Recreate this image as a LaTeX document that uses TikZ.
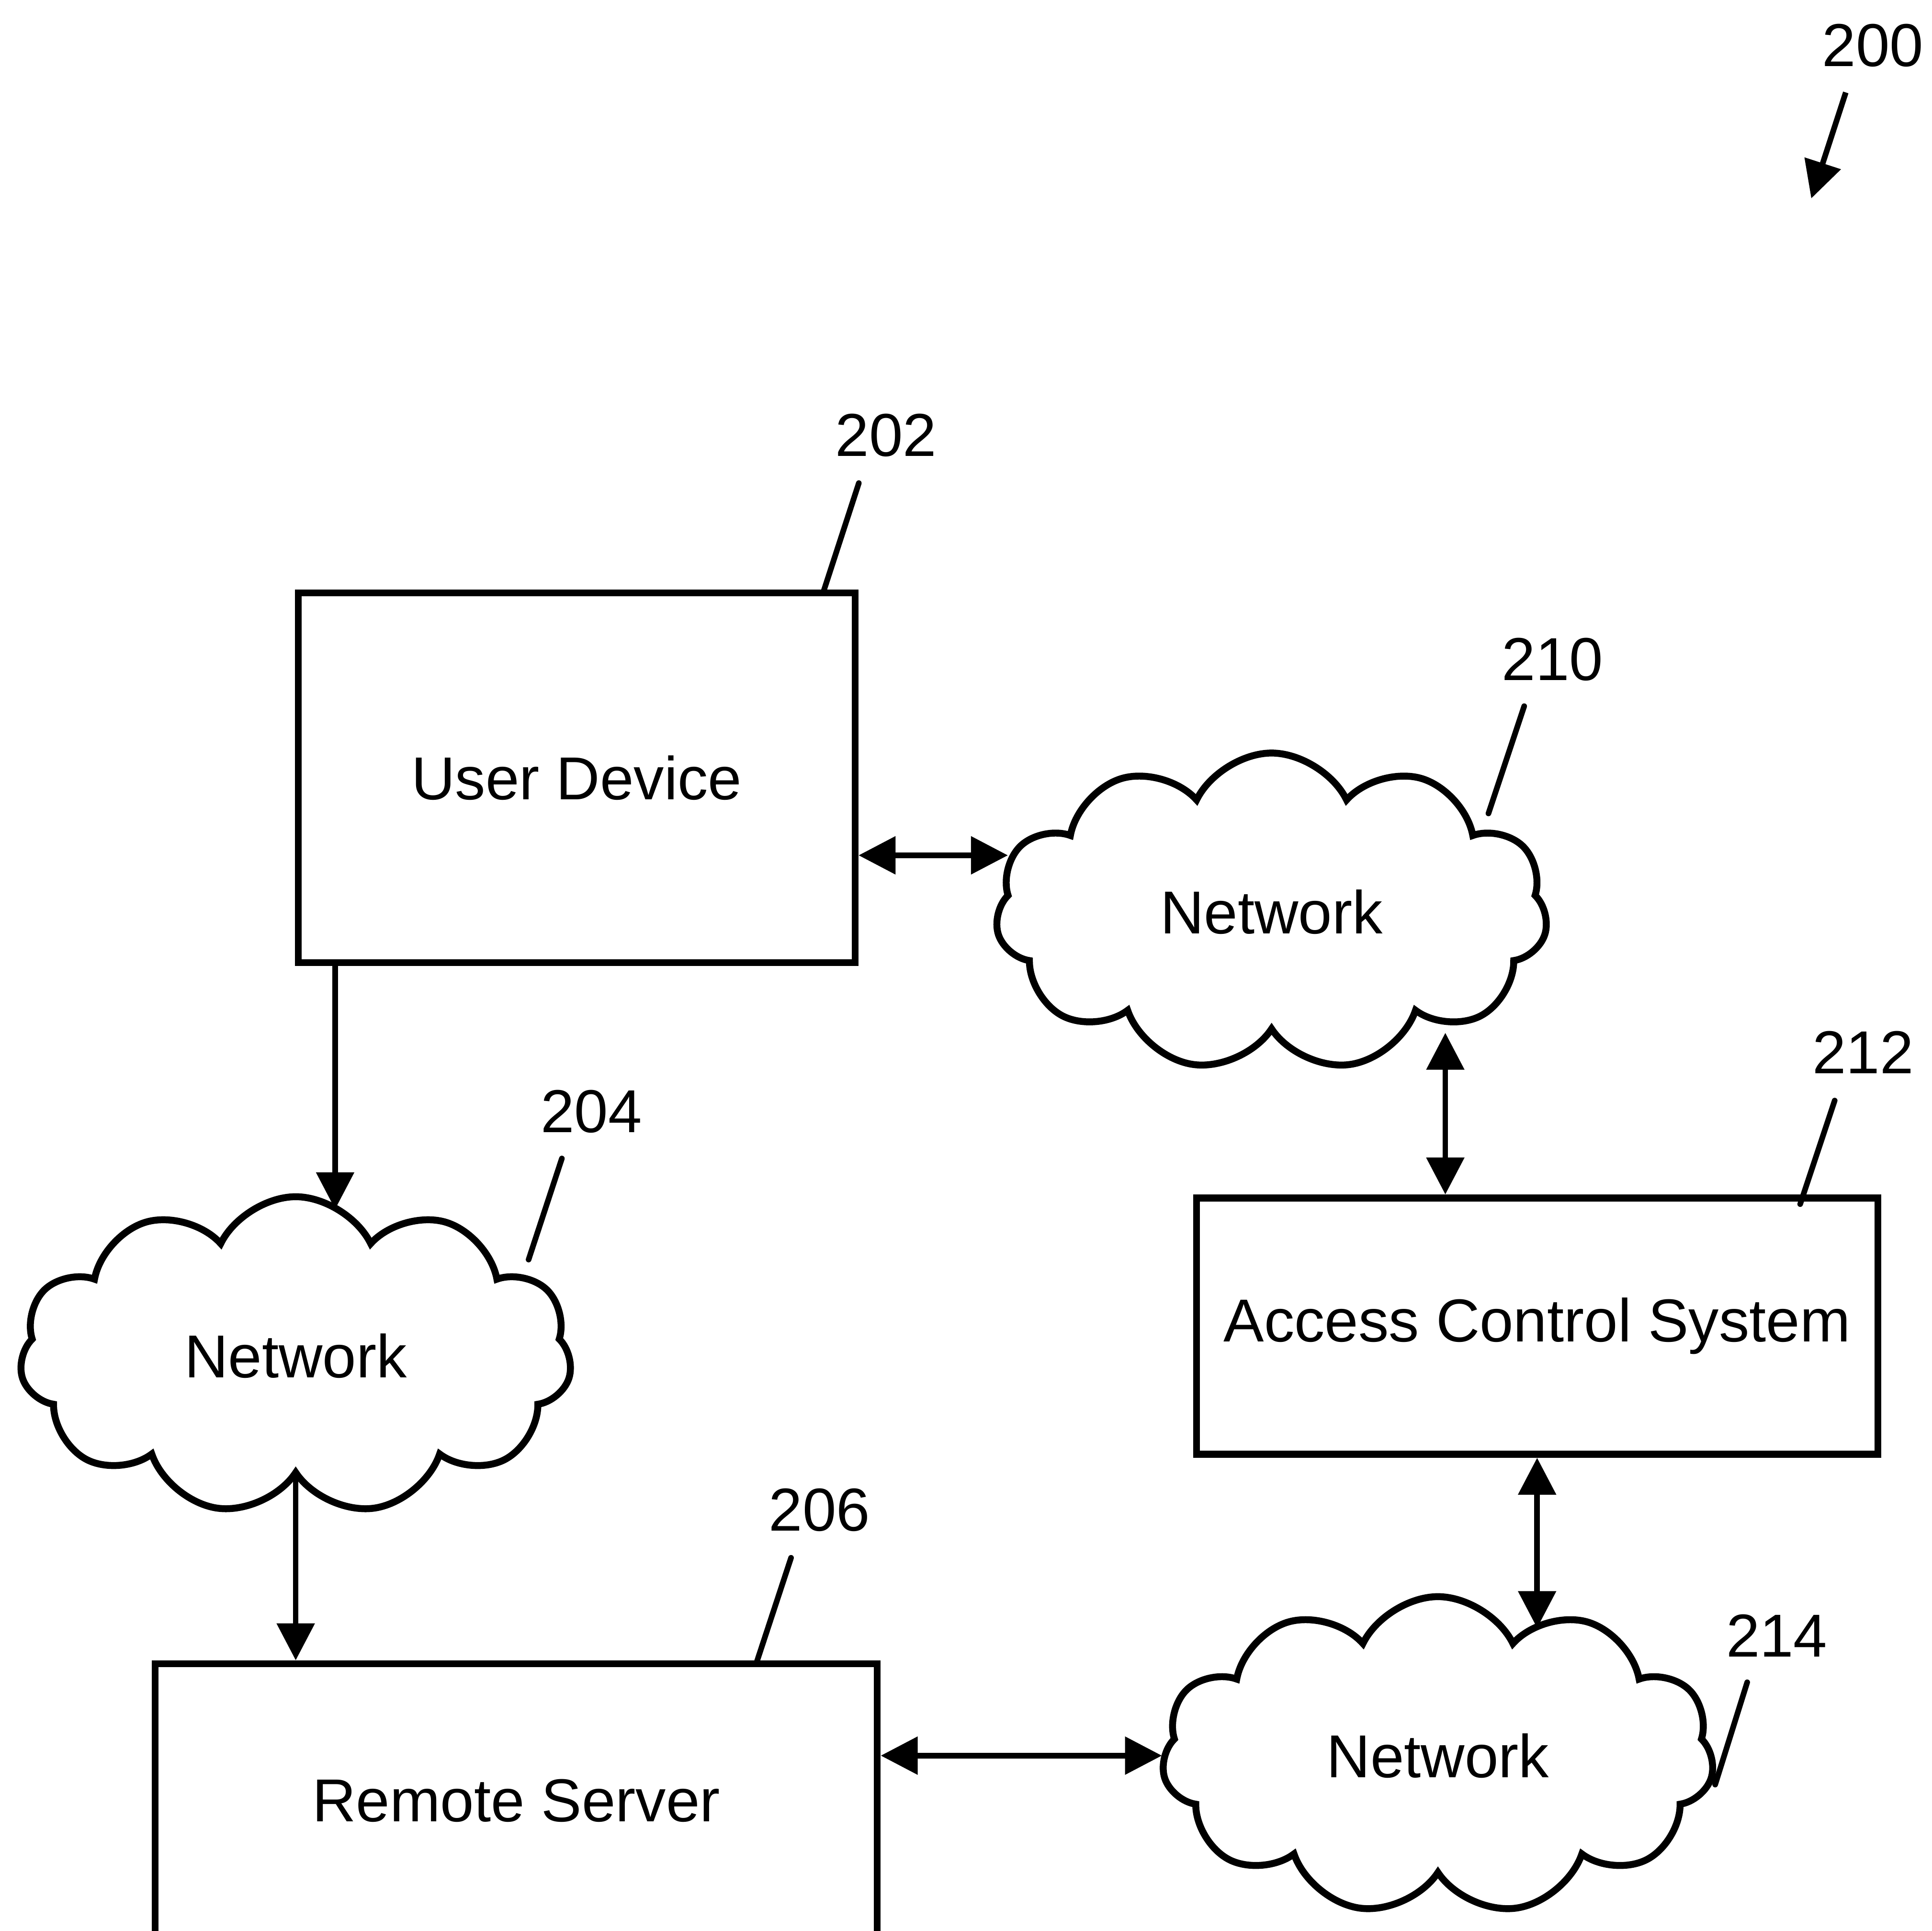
\documentclass[tikz,border=0pt]{standalone}
\usepackage{fontspec}
\setmainfont{Liberation Sans}
\usetikzlibrary{shapes.symbols,arrows.meta,calc}

\begin{document}
\begin{tikzpicture}[
    box/.style={draw, rectangle, line width=1.6pt, font=\fontsize{14}{16}\selectfont},
    net/.style={draw, cloud, cloud puffs=11, cloud puff arc=128, cloud ignores aspect, minimum width=4.48cm, minimum height=2.58cm, line width=1.6pt, font=\fontsize{14}{16}\selectfont},
    refnum/.style={font=\fontsize{14}{16}\selectfont, inner sep=0pt},
    leader/.style={line width=1.3pt, line cap=round},
    flow/.style={-{Triangle[length=0.3cm,width=0.3cm]}, line width=1.3pt},
    duplex/.style={{Triangle[length=0.3cm,width=0.3cm]}-{Triangle[length=0.3cm,width=0.3cm]}, line width=1.3pt}
]
    \useasboundingbox (0,0) rectangle (15.68,-15.665);
    \clip (0,0) rectangle (15.68,-15.665);

    % Blocks
    \node [box, minimum width=4.52cm, minimum height=3.00cm] (ud) at (4.68,-6.31) {User Device};
    \node [net] (net210) at (10.32,-7.40) {Network};
    \node [net] (net204) at (2.40,-11.00) {Network};
    \node [box, minimum width=5.53cm, minimum height=2.08cm] (acs) at (12.475,-10.76) {Access Control System};
    \node [box, minimum width=5.86cm, minimum height=2.22cm] (rs) at (4.19,-14.61) {Remote Server};
    \node [net] (net214) at (11.67,-14.245) {Network};

    % Contact points on the clouds
    \coordinate (in204) at ($(net204.north)+(0.32,-0.13)$);
    \coordinate (w210) at ($(net210.center)+(-2.14,0.46)$);
    \coordinate (s210) at ($(net210.center)+(1.41,-0.98)$);
    \coordinate (n214) at ($(net214.center)+(0.805,1.035)$);
    \coordinate (w214) at ($(net214.center)+(-2.24,0)$);

    % Links
    \draw [flow] (ud.south -| in204) -- (in204);
    \draw [flow] (net204.south) -- (net204.south |- rs.north);
    \draw [duplex] (ud.east |- w210) -- (w210);
    \draw [duplex] (s210) -- (s210 |- acs.north);
    \draw [duplex] (acs.south) -- (acs.south |- n214);
    \draw [duplex] (rs.east |- w214) -- (w214);

    % Reference numerals
    \node [refnum] (r200) at (15.20,-0.37) {200};
    \coordinate (a200) at (14.98,-0.75);
    \coordinate (b200) at (14.70,-1.61);
    \draw [flow] (a200) -- (b200);

    \foreach \num/\tx/\ty/\ax/\ay/\bx/\by in {202/7.19/-3.53/6.97/-3.92/6.68/-4.81,
        210/12.60/-5.35/12.37/-5.73/12.08/-6.60, 204/4.80/-9.02/4.56/-9.40/4.29/-10.22,
        206/6.65/-12.25/6.42/-12.64/6.14/-13.49, 212/15.12/-8.54/14.89/-8.93/14.61/-9.77,
        214/14.42/-13.27/14.18/-13.65/13.92/-14.48} {
        \node [refnum] (r\num) at (\tx,\ty) {\num};
        \coordinate (a\num) at (\ax,\ay);
        \coordinate (b\num) at (\bx,\by);
        \draw [leader] (a\num) -- (b\num);
    }
\end{tikzpicture}
\end{document}
